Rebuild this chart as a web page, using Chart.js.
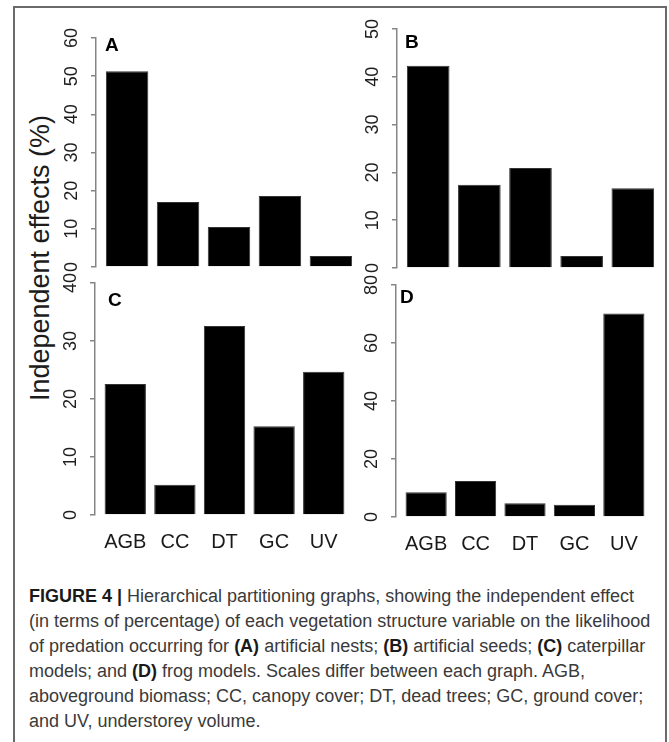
<!DOCTYPE html>
<html><head><meta charset="utf-8">
<script src="https://cdn.jsdelivr.net/npm/chart.js@4"></script>
<style>
html,body{margin:0;padding:0;background:#fff;}
body{width:669px;height:742px;position:relative;overflow:hidden;font-family:"Liberation Sans",Arial,sans-serif;}
#frame{position:absolute;left:13px;top:6px;width:650px;height:780px;border:2px solid #6a6a6a;border-bottom:none;}
canvas.panel{position:absolute;left:0;top:0;}
#ytitle{position:absolute;left:40px;top:258px;transform:translate(-50%,-50%) rotate(-90deg);white-space:nowrap;font-size:27px;color:#1c1c1c;}
#caption{position:absolute;left:29px;top:584px;white-space:nowrap;font-size:18px;line-height:25px;color:#3a3a3a;}
#caption b{color:#1a1a1a;}
</style></head>
<body>
<div id="frame"></div>
<div id="ytitle">Independent effects (%)</div>
<div id="caption"><b>FIGURE 4 |</b> Hierarchical partitioning graphs, showing the independent effect<br>(in terms of percentage) of each vegetation structure variable on the likelihood<br>of predation occurring for <b>(A)</b> artificial nests; <b>(B)</b> artificial seeds; <b>(C)</b> caterpillar<br>models; and <b>(D)</b> frog models. Scales differ between each graph. AGB,<br>aboveground biomass; CC, canopy cover; DT, dead trees; GC, ground cover;<br>and UV, understorey volume.</div>
<script>
// ---- data ----
const categories = ['AGB', 'CC', 'DT', 'GC', 'UV'];
const valuesA = [51.3, 17.0, 10.5, 18.6, 2.9];   // artificial nests
const valuesB = [42.3, 17.4, 20.9, 2.5, 16.7];   // artificial seeds
const valuesC = [22.6, 5.2, 32.6, 15.3, 24.7];   // caterpillar models
const valuesD = [8.5, 12.4, 4.7, 4.2, 70.2];     // frog models
const panelLetters = ['A', 'B', 'C', 'D'];
const yMaxes = [60, 50, 40, 80];
const yStepSizes = [10, 10, 10, 20];

// ---- layout (pixel geometry of each panel's plot area) ----
const geom = [
  {L: 96,  R: 362, T: 38,  B: 267, showX: false, lx: 105, ly: 51},
  {L: 397, R: 664, T: 29,  B: 268, showX: false, lx: 405, ly: 48},
  {L: 95,  R: 354, T: 283, B: 515, showX: true,  lx: 108, ly: 306},
  {L: 396, R: 654, T: 285, B: 517, showX: true,  lx: 400, ly: 303}
];
const W = 669, H = 742, YW = 30, XH = 45;
const AXIS_COLOR = '#858585';

const rotTicks = {
  id: 'rotTicks',
  afterDraw(chart) {
    const s = chart.scales.y, ctx = chart.ctx;
    ctx.save();
    ctx.fillStyle = '#1e1e1e';
    ctx.font = '18px "Liberation Sans", Arial, sans-serif';
    ctx.textAlign = 'center';
    ctx.textBaseline = 'middle';
    s.ticks.forEach(t => {
      const y = s.getPixelForValue(t.value);
      ctx.save();
      ctx.translate(chart.chartArea.left - 24, y);
      ctx.rotate(-Math.PI / 2);
      ctx.fillText(String(t.value), 0, 0);
      ctx.restore();
    });
    ctx.restore();
  }
};
const panelLetter = {
  id: 'panelLetter',
  afterDraw(chart, args, opts) {
    const ctx = chart.ctx;
    ctx.save();
    ctx.fillStyle = '#000';
    ctx.font = 'bold 19px "Liberation Sans", Arial, sans-serif';
    ctx.textAlign = 'left';
    ctx.textBaseline = 'alphabetic';
    ctx.fillText(opts.text, opts.x, opts.y);
    ctx.restore();
  }
};

function makePanel(idx, values) {
  const g = geom[idx];
  const canvas = document.createElement('canvas');
  canvas.className = 'panel';
  canvas.width = W; canvas.height = H;
  canvas.style.width = W + 'px'; canvas.style.height = H + 'px';
  document.body.appendChild(canvas);
  new Chart(canvas, {
    type: 'bar',
    data: {
      datasets: [{
        data: values.map((v, i) => ({x: i, y: v})),
        backgroundColor: '#000',
        borderColor: '#333',
        borderWidth: 1,
        barPercentage: 0.833,
        categoryPercentage: 1
      }]
    },
    options: {
      responsive: false,
      animation: false,
      devicePixelRatio: 1,
      layout: {padding: {left: g.L - YW, right: W - g.R, top: g.T, bottom: H - g.B - XH}},
      plugins: {
        legend: {display: false},
        tooltip: {enabled: false},
        panelLetter: {text: panelLetters[idx], x: g.lx, y: g.ly}
      },
      scales: {
        x: {
          type: 'linear', min: -0.61, max: 4.61, offset: false,
          afterBuildTicks: s => { s.ticks = categories.map((c, i) => ({value: i})); },
          afterFit: s => { s.height = XH; },
          ticks: {
            display: g.showX, autoSkip: false, maxRotation: 0, minRotation: 0,
            callback: v => categories[v],
            font: {size: 20, family: '"Liberation Sans", Arial, sans-serif'},
            color: '#1a1a1a', padding: 15
          },
          grid: {display: false, drawTicks: false},
          border: {display: false}
        },
        y: {
          min: 0, max: yMaxes[idx],
          afterFit: s => { s.width = YW; },
          ticks: {stepSize: yStepSizes[idx], display: false},
          grid: {drawOnChartArea: false, drawTicks: true, tickLength: 5, color: AXIS_COLOR, lineWidth: 1.5},
          border: {display: true, color: AXIS_COLOR, width: 1.5}
        }
      }
    },
    plugins: [rotTicks, panelLetter]
  });
}

makePanel(0, valuesA);
makePanel(1, valuesB);
makePanel(2, valuesC);
makePanel(3, valuesD);
</script>
</body></html>
